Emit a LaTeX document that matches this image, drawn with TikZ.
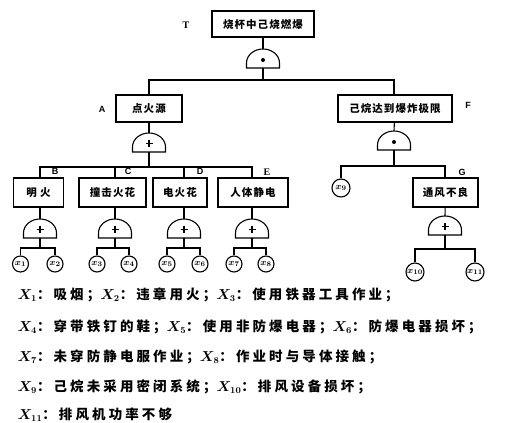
\documentclass[tikz,border=0pt]{standalone}
\usepackage{fontspec}
\newfontfamily\cjk[LetterSpace=10]{Noto Sans CJK SC}
\newfontfamily\cjkl[LetterSpace=23]{Noto Sans CJK SC}
\newfontfamily\labf{Liberation Sans}
\newfontfamily\labs{Liberation Serif}
\newcommand\gatebody{\draw (-16.5,0) -- (-16.5,-5) arc[start angle=180,end angle=360,x radius=16.5,y radius=14] -- (16.5,0) -- cycle; \coordinate (-top) at (0,-19); \coordinate (-bot) at (0,0);}
\tikzset{
  andgate/.pic={\gatebody \fill (0,-8) circle (2);},
  orgate/.pic={\gatebody \draw[line width=1.8pt] (-3.5,-8.5) -- (3.5,-8.5) (0,-12) -- (0,-5);}
}
\begin{document}
\begin{tikzpicture}[x=1pt,y=-1pt, line width=1.1pt,
  box/.style={draw, inner sep=0pt, minimum height=27pt, font=\cjk\bfseries\fontsize{10.5}{12}\selectfont},
  ev/.style={draw, circle, inner sep=0pt, minimum size=16pt, font=\boldmath\fontsize{9.5}{10}\selectfont},
  lab/.style={font=\labf\bfseries\fontsize{9}{10}\selectfont},
  labs/.style={font=\labs\bfseries\fontsize{10}{11}\selectfont},
  leg/.style={anchor=west, inner sep=0pt, font=\boldmath\cjkl\bfseries\fontsize{13.5}{15}\selectfont}]
\useasboundingbox (0,0) rectangle (523,423);

% boxes
\node[box, minimum width=102pt, minimum height=26pt] (T) at (263,24) {烧杯中己烧燃爆};
\node[box, minimum width=66pt] (A) at (149,108.5) {点火源};
\node[box, minimum width=114pt] (F) at (395,108.5) {己烷达到爆炸极限};
\node[box, minimum width=50pt, minimum height=29pt] (B) at (38.5,192.5) {明 火};
\node[box, minimum width=67pt, minimum height=29pt] (C) at (112.5,192.5) {撞击火花};
\node[box, minimum width=54pt, minimum height=29pt] (D) at (180,192.5) {电火花};
\node[box, minimum width=70pt, minimum height=29pt] (E) at (253,192.5) {人体静电};
\node[box, minimum width=65pt, minimum height=29pt] (G) at (445.5,192.5) {通风不良};

% letter labels
\node[labs] (lT) at (186,25) {T};
\node[lab] (lA) at (102,109) {A};
\node[lab] (lB) at (55,171) {B};
\node[lab] (lC) at (128,171) {C};
\node[lab] (lD) at (200,171) {D};
\node[labs] (lE) at (267,172) {E};
\node[lab] (lF) at (468,105) {F};
\node[lab] (lG) at (462,172) {G};

% gates
\pic (g0) at (263,68) {andgate};
\pic (gA) at (149,152) {orgate};
\pic (gF) at (394,150) {andgate};
\pic (gB) at (40,238) {orgate};
\pic (gC) at (115,238) {orgate};
\pic (gD) at (184,238) {orgate};
\pic (gE) at (252,238) {orgate};
\pic (gG) at (445,235) {orgate};

% basic events
\node[ev] (x1) at (20.5,264) {$x_{1}$};
\node[ev] (x2) at (55,264) {$x_{2}$};
\node[ev] (x3) at (97,264) {$x_{3}$};
\node[ev] (x4) at (129,264) {$x_{4}$};
\node[ev] (x5) at (167,264) {$x_{5}$};
\node[ev] (x6) at (200,264) {$x_{6}$};
\node[ev] (x7) at (234,264) {$x_{7}$};
\node[ev] (x8) at (266,264) {$x_{8}$};
\node[ev, minimum size=18pt] (x9) at (341,188) {$x_{9}$};
\node[ev, minimum size=18pt] (x10) at (415,272) {$x_{10}$};
\node[ev, minimum size=18pt] (x11) at (475,272) {$x_{11}$};

% junctions
\coordinate (j0) at (263,80);
\coordinate (jA) at (149,167);
\coordinate (jF) at (394,166);
\coordinate (jB) at (40,248);
\coordinate (jC) at (115,248);
\coordinate (jD) at (184,248);
\coordinate (jE) at (252,248);
\coordinate (jG) at (445,249);

% connectors
\draw (T) -- (g0-top);
\draw (g0-bot) -- (j0);
\draw (A.north -| gA-top) |- (j0) -| (F.north -| gF-top);
\draw (A) -- (gA-top);
\draw (gA-bot) -- (jA);
\draw (gB-top |- B.north) |- (jA) -| (gE-top |- E.north);
\draw (gC-top |- C.north) -- (gC-top |- jA);
\draw (gD-top |- D.north) -- (gD-top |- jA);
\draw (F) -- (gF-top);
\draw (gF-bot) -- (jF);
\draw (x9) |- (jF) -| (G.north -| gG-top);
\draw (gB-top |- B.south) -- (gB-top);
\draw (gC-top |- C.south) -- (gC-top);
\draw (gD-top |- D.south) -- (gD-top);
\draw (gE-top |- E.south) -- (gE-top);
\draw (G) -- (gG-top);
\draw (gB-bot) -- (jB);
\draw (gC-bot) -- (jC);
\draw (gD-bot) -- (jD);
\draw (gE-bot) -- (jE);
\draw (gG-bot) -- (jG);
\draw (x1) |- (jB) -| (x2);
\draw (x3) |- (jC) -| (x4);
\draw (x5) |- (jD) -| (x6);
\draw (x7) |- (jE) -| (x8);
\draw (x10) |- (jG) -| (x11);

% legend
\node[leg] (L1) at (17,295) {$X_{1}$：吸烟；$X_{2}$：违章用火；$X_{3}$：使用铁器工具作业；};
\node[leg] (L2) at (17,327) {$X_{4}$：穿带铁钉的鞋；$X_{5}$：使用非防爆电器；$X_{6}$：防爆电器损坏；};
\node[leg] (L3) at (17,357) {$X_{7}$：未穿防静电服作业；$X_{8}$：作业时与导体接触；};
\node[leg] (L4) at (17,387) {$X_{9}$：己烷未采用密闭系统；$X_{10}$：排风设备损坏；};
\node[leg] (L5) at (17,415) {$X_{11}$：排风机功率不够};
\end{tikzpicture}
\end{document}
